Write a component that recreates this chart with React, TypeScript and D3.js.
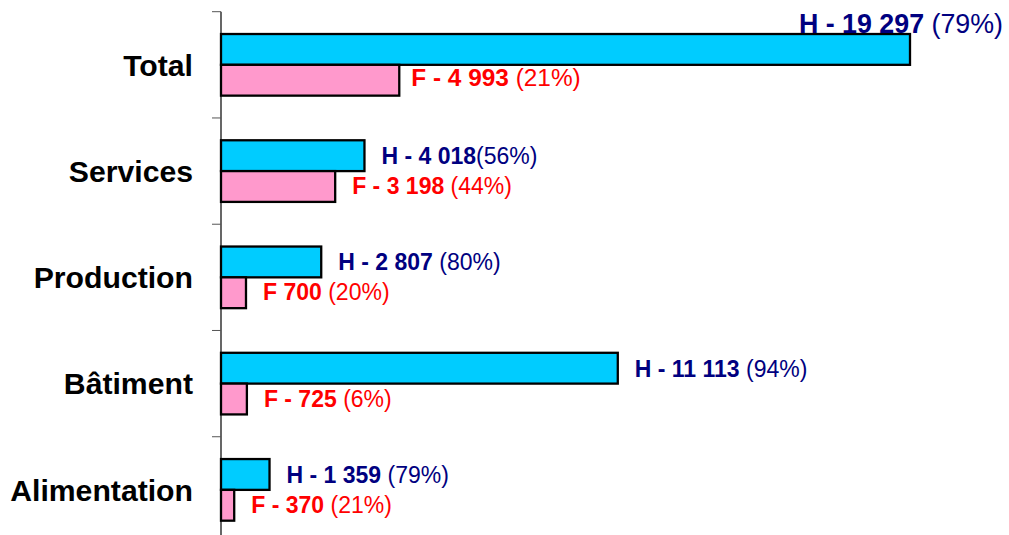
import React from 'react';
import * as d3 from 'd3';

// Data
const categories = ['Total', 'Services', 'Production', 'Bâtiment', 'Alimentation'];
const hommes = [19297, 4018, 2807, 11113, 1359];
const femmes = [4993, 3198, 700, 725, 370];
const hText = ['H - 19 297', 'H - 4 018', 'H - 2 807', 'H - 11 113', 'H - 1 359'];
const hPct = [' (79%)', '(56%)', ' (80%)', ' (94%)', ' (79%)'];
const fText = ['F - 4 993', 'F - 3 198', 'F 700', 'F - 725', 'F - 370'];
const fPct = [' (21%)', ' (44%)', ' (20%)', ' (6%)', ' (21%)'];

const W = 1009;
const H = 535;
const axisX = 221;
const font = 'Arial, "Liberation Sans", Helvetica, sans-serif';

const App = () => {
    const x = d3.scaleLinear().domain([0, 19297]).range([axisX, 910]);
    const y = d3.scaleBand<string>()
        .domain(categories)
        .range([11.7, 543])
        .paddingInner(0.42)
        .paddingOuter(0.21);
    const half = y.bandwidth() / 2;
    const step = y.step();
    const ticks = d3.range(categories.length + 1).map(i => y.range()[0] + i * step);

    return (
        <svg width={W} height={H} style={{ position: 'absolute', left: 0, top: 0 }} fontFamily={font}>
            <rect width={W} height={H} fill="#fff" />
            {/* bars */}
            {categories.map((c, i) => (
                <g key={c}>
                    <rect x={x(0)} y={y(c)!} width={x(hommes[i]) - x(0)} height={half}
                        fill="#00CCFF" stroke="#000" strokeWidth={2.3} />
                    <rect x={x(0)} y={y(c)! + half} width={x(femmes[i]) - x(0)} height={half}
                        fill="#FF99CC" stroke="#000" strokeWidth={2.3} />
                </g>
            ))}
            {/* axis */}
            <line x1={axisX} x2={axisX} y1={ticks[0]} y2={H} stroke="#000" strokeWidth={1.2} />
            {ticks.map((t, i) => (
                <line key={i} x1={axisX - 9} x2={axisX} y1={t} y2={t} stroke="#555" strokeWidth={1} />
            ))}
            {categories.map(c => (
                <text key={c} x={axisX - 28} y={y(c)! + half + 10.8} textAnchor="end"
                    fontSize={30.2} fontWeight="bold" fill="#000">{c}</text>
            ))}
            {/* value labels */}
            {categories.map((c, i) => {
                const total = i === 0;
                const hs = total ? 26.8 : 23;
                const fs = total ? 24.4 : 23;
                const hy = total ? 33 : y(c)! + half / 2 + 8.3;
                const fy = y(c)! + half * 1.5 + (total ? 5.7 : 7.5);
                return (
                    <g key={c} style={{ whiteSpace: 'pre' }}>
                        <text x={total ? 1003 : x(hommes[i]) + 17} y={hy} textAnchor={total ? 'end' : 'start'}
                            fontSize={hs} fill="#000080">
                            <tspan fontWeight="bold">{hText[i]}</tspan>
                            <tspan>{hPct[i]}</tspan>
                        </text>
                        <text x={x(femmes[i]) + (total ? 12 : 17)} y={fy} fontSize={fs} fill="#FF0000">
                            <tspan fontWeight="bold">{fText[i]}</tspan>
                            <tspan>{fPct[i]}</tspan>
                        </text>
                    </g>
                );
            })}
        </svg>
    );
};

export default App;
